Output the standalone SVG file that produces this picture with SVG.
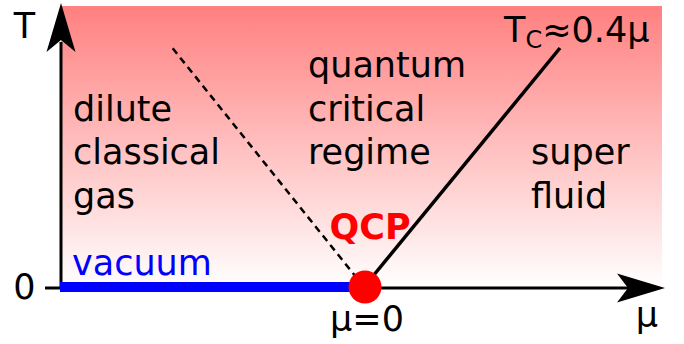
<svg xmlns="http://www.w3.org/2000/svg" width="684" height="344" viewBox="0 0 684 344">
  <defs>
    <linearGradient id="bg" x1="0" y1="6" x2="0" y2="288" gradientUnits="userSpaceOnUse">
      <stop offset="0" stop-color="#ff8080"/>
      <stop offset="1" stop-color="#ffffff"/>
    </linearGradient>
    <style>
      text { font-family: "DejaVu Sans", "Liberation Sans", sans-serif; font-size: 35px; fill: #000; }
      .axis { stroke: #000; stroke-width: 3; fill: none; }
      .head { fill: #000; stroke: none; }
      .bold { font-weight: bold; fill: #ff0000; }
      .blue { fill: #0000ff; }
    </style>
  </defs>

  <rect id="background" x="61" y="6" width="601" height="282" fill="url(#bg)"/>

  <g id="connectors">
    <line x1="172.7" y1="48.3" x2="364" y2="287" stroke="#000" stroke-width="2.5" stroke-dasharray="7,5"/>
    <line x1="364" y1="287" x2="560" y2="48" stroke="#000" stroke-width="3.5"/>
    <line class="axis" x1="61" y1="289" x2="61" y2="42"/>
    <polygon class="head" points="61,3 46.5,52 61,40 75.5,52"/>
    <line class="axis" x1="45" y1="288" x2="629" y2="288"/>
    <polygon class="head" points="665,288 617,273.5 628,288 617,302.5"/>
    <line x1="60" y1="287" x2="352" y2="287" stroke="#0000ff" stroke-width="10"/>
  </g>

  <g id="dilute-classical-gas">
    <text x="73" y="120.5">dilute</text>
    <text x="73" y="164">classical</text>
    <text x="73" y="208">gas</text>
  </g>

  <g id="quantum-critical-regime">
    <text x="308" y="76.5">quantum</text>
    <text x="308" y="120.5">critical</text>
    <text x="308" y="164">regime</text>
  </g>

  <g id="superfluid">
    <text x="531" y="164">super</text>
    <text x="531" y="208">fluid</text>
  </g>

  <g id="tc-label">
    <text x="504" y="41.7">T<tspan font-size="24" dy="6.5">C</tspan><tspan dy="-6.5">≈0.4μ</tspan></text>
  </g>

  <g id="vacuum">
    <text class="blue" x="72" y="274.5">vacuum</text>
  </g>

  <g id="qcp">
    <circle cx="365" cy="287" r="16.5" fill="#ff0000"/>
    <text class="bold" x="370" y="239" text-anchor="middle">QCP</text>
  </g>

  <g id="axis-labels">
    <text x="24.5" y="38" text-anchor="middle">T</text>
    <text x="24.5" y="299" text-anchor="middle">0</text>
    <text x="367" y="331" text-anchor="middle">μ=0</text>
    <text x="647" y="327" text-anchor="middle">μ</text>
  </g>
</svg>
